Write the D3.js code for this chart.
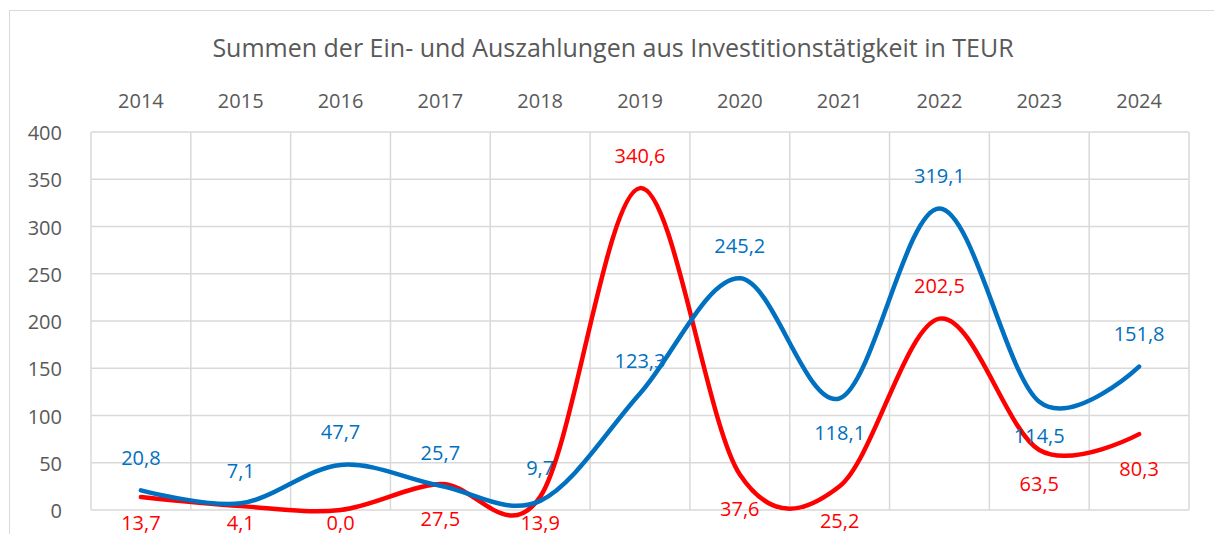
<!DOCTYPE html>
<html>
<head>
<meta charset="utf-8">
<script src="https://cdn.jsdelivr.net/npm/d3@7"></script>
<style>
  body { margin: 0; background: #fff; }
  svg text { font-family: "Open Sans", "Noto Sans", sans-serif; }
</style>
</head>
<body>
<div id="chart"></div>
<script>
// data
var years = ["2014","2015","2016","2017","2018","2019","2020","2021","2022","2023","2024"];
var blueValues = [20.8, 7.1, 47.7, 25.7, 9.7, 123.3, 245.2, 118.1, 319.1, 114.5, 151.8];
var redValues = [13.7, 4.1, 0.0, 27.5, 13.9, 340.6, 37.6, 25.2, 202.5, 63.5, 80.3];
var yTicks = [0, 50, 100, 150, 200, 250, 300, 350, 400];
// which labels go below the point (others go above)
var blueBelow = [false, false, false, false, false, false, false, true, false, true, false];
var redBelow = [true, true, true, true, true, false, true, true, false, true, true];

var width = 1214, height = 534;
var plotLeft = 91, plotRight = 1189, plotTop = 132, plotBottom = 510;

var svg = d3.select("#chart").append("svg")
    .attr("width", width)
    .attr("height", height);

// chart border
svg.append("rect")
    .attr("x", 9.5).attr("y", 10.5)
    .attr("width", width + 20).attr("height", height + 20)
    .attr("fill", "none")
    .attr("stroke", "#d9d9d9")
    .attr("stroke-width", 1);

var x = d3.scaleBand().domain(years).range([plotLeft, plotRight]);
var y = d3.scaleLinear().domain([0, 400]).range([plotBottom, plotTop]);

// grid
svg.append("g").selectAll("line")
    .data(yTicks)
    .enter().append("line")
    .attr("x1", plotLeft).attr("x2", plotRight)
    .attr("y1", function (d) { return y(d); })
    .attr("y2", function (d) { return y(d); })
    .attr("stroke", "#d9d9d9").attr("stroke-width", 1.5);

var edges = years.map(function (d) { return x(d); }).concat([plotRight]);
svg.append("g").selectAll("line")
    .data(edges)
    .enter().append("line")
    .attr("x1", function (d) { return d; })
    .attr("x2", function (d) { return d; })
    .attr("y1", plotTop).attr("y2", plotBottom)
    .attr("stroke", "#d9d9d9").attr("stroke-width", 1.5);

// title
svg.append("text")
    .attr("x", 613).attr("y", 47)
    .attr("text-anchor", "middle")
    .attr("dominant-baseline", "central")
    .style("font-size", "25px")
    .style("fill", "#595959")
    .text("Summen der Ein- und Auszahlungen aus Investitionstätigkeit in TEUR");

// x axis on top
var xAxis = svg.append("g")
    .attr("transform", "translate(0," + 100 + ")")
    .call(d3.axisTop(x).tickSize(0).tickPadding(0));
xAxis.select(".domain").remove();
xAxis.selectAll("text")
    .attr("dominant-baseline", "central")
    .attr("dy", null)
    .style("font-size", "20px")
    .style("font-family", "\"Open Sans\", sans-serif")
    .style("fill", "#595959");

// y axis
var yAxis = svg.append("g")
    .attr("transform", "translate(" + 62 + ",0)")
    .call(d3.axisLeft(y).tickValues(yTicks).tickSize(0).tickPadding(0));
yAxis.select(".domain").remove();
yAxis.selectAll("text")
    .attr("dominant-baseline", "central")
    .attr("dy", null)
    .style("font-size", "20px")
    .style("font-family", "\"Open Sans\", sans-serif")
    .style("fill", "#595959");

var cx = function (d, i) { return x(years[i]) + x.bandwidth() / 2; };
var line = d3.line()
    .x(cx)
    .y(function (d) { return y(d); })
    .curve(d3.curveCardinal.tension(0));

function drawSeries(values, below, color) {
    svg.append("path")
        .datum(values)
        .attr("d", line)
        .attr("fill", "none")
        .attr("stroke", color)
        .attr("stroke-width", 4.5)
        .attr("stroke-linecap", "round")
        .attr("stroke-linejoin", "round");

    svg.append("g").selectAll("text")
        .data(values)
        .enter().append("text")
        .attr("x", cx)
        .attr("y", function (d, i) {
            var py = y(d);
            if (below[i]) return Math.min(py + 34, 522);
            return py - 33;
        })
        .attr("text-anchor", "middle")
        .attr("dominant-baseline", "central")
        .style("font-size", "20px")
        .style("fill", color)
        .text(function (d) { return d.toFixed(1).replace(".", ","); });
}

drawSeries(redValues, redBelow, "#ff0000");
drawSeries(blueValues, blueBelow, "#0070c0");
</script>
</body>
</html>
